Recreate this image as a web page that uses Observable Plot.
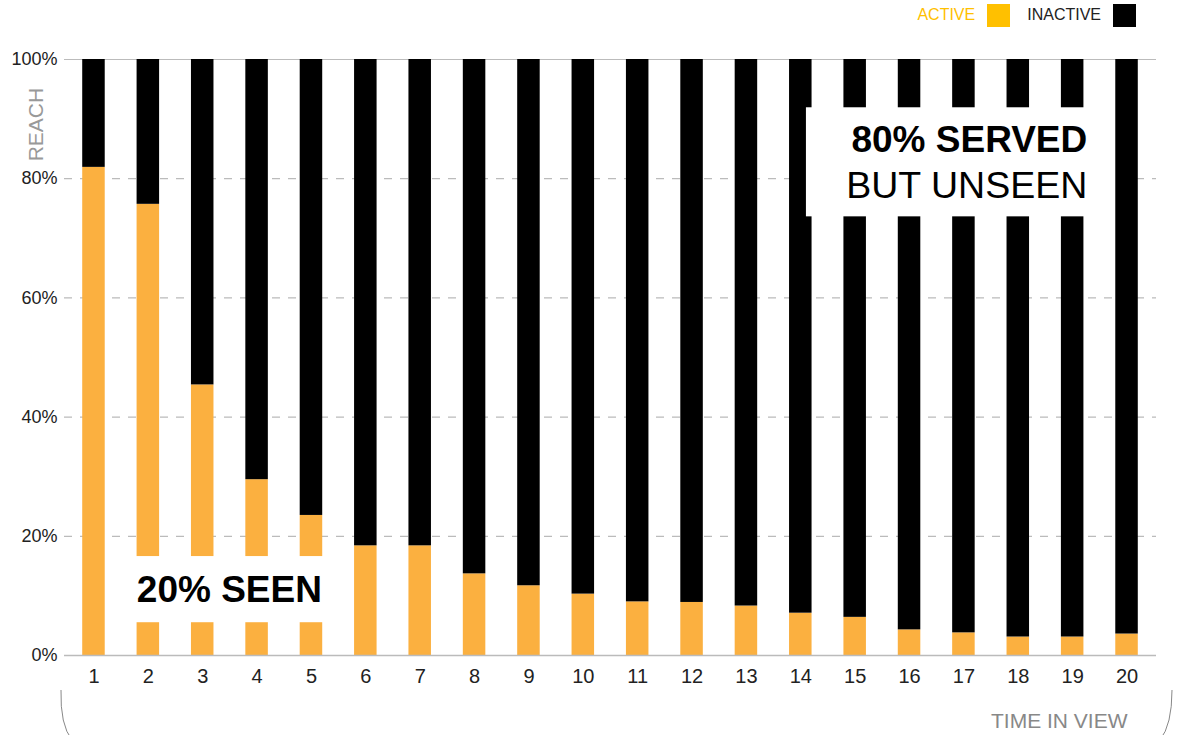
<!DOCTYPE html>
<html>
<head>
<meta charset="utf-8">
<script src="https://cdn.jsdelivr.net/npm/d3@7"></script>
<script src="https://cdn.jsdelivr.net/npm/@observablehq/plot@0.6"></script>
<style>
  html, body { margin: 0; padding: 0; background: #fff; }
  body { width: 1182px; height: 735px; overflow: hidden; font-family: "Liberation Sans", Arial, sans-serif; }
  .legend { height: 30px; display: flex; justify-content: flex-end; align-items: center; padding-right: 46px; font-size: 16px; box-sizing: border-box; }
  .legend .item { display: flex; align-items: center; }
  .legend .swatch { width: 23px; height: 23px; margin-left: 12px; }
  .legend .item + .item { margin-left: 17px; }
  #chart svg { display: block; }
</style>
</head>
<body>
<div class="legend" id="legend"></div>
<div id="chart"></div>
<script>
// Seconds in view, 1..20
const steps = ["1","2","3","4","5","6","7","8","9","10","11","12","13","14","15","16","17","18","19","20"];
// Share of impressions still actively viewed (%)
const active = [81.9, 75.7, 45.4, 29.5, 23.5, 18.4, 18.4, 13.7, 11.7, 10.3, 9.0, 8.9, 8.3, 7.1, 6.4, 4.3, 3.8, 3.1, 3.1, 3.6];
// Remaining share: served but inactive (%)
const inactive = active.map(v => +(100 - v).toFixed(1));
const yTicks = [0, 20, 40, 60, 80, 100];
const statuses = ["ACTIVE", "INACTIVE"];
const barColors = ["#FBB040", "#000000"];
const legendColors = ["#FFC000", "#000000"];
const legendTextColors = ["#FFC000", "#222222"];

// Long table for the stacked bars
const rows = [];
steps.forEach((s, i) => {
  rows.push({step: s, status: "ACTIVE", value: active[i]});
  rows.push({step: s, status: "INACTIVE", value: inactive[i]});
});

// Legend
const legend = document.getElementById("legend");
statuses.forEach((s, i) => {
  const item = document.createElement("div");
  item.className = "item";
  item.innerHTML = `<span style="color:${legendTextColors[i]}">${s}</span><span class="swatch" style="background:${legendColors[i]}"></span>`;
  legend.appendChild(item);
});

const W = 1182, H = 705;
const plot = Plot.plot({
  width: W,
  height: H,
  marginTop: 29,
  marginBottom: 80,
  marginLeft: 64,
  marginRight: 26,
  style: {fontFamily: "Liberation Sans, Arial, sans-serif", fontSize: "18px", color: "#222", background: "#fff"},
  x: {domain: steps, paddingInner: 0.586, paddingOuter: 0.335, round: false, label: null},
  y: {domain: [0, 100], label: null},
  color: {domain: statuses, range: barColors},
  marks: [
    Plot.ruleY([20, 40, 60, 80], {stroke: "#bbb", strokeWidth: 1.2, strokeDasharray: "8,8"}),
    Plot.ruleY([100], {stroke: "#bbb", strokeWidth: 1.2}),
    Plot.barY(rows, Plot.stackY({order: statuses}, {x: "step", y: "value", fill: "status"})),
    Plot.ruleY([0], {stroke: "#bbb", strokeWidth: 1.5}),
    Plot.axisX({tickSize: 0, tickPadding: 13, fontSize: 20, label: null}),
    Plot.axisY({ticks: yTicks, tickSize: 0, tickPadding: 7, fontSize: 18, tickFormat: d => d + "%", label: null})
  ]
});
document.getElementById("chart").appendChild(plot);

// Annotations, placed through the chart's scales
const svg = d3.select(plot);
const xs = plot.scale("x"), ys = plot.scale("y");
const bw = xs.bandwidth;
const gap = xs.step - bw;
const ann = svg.append("g").attr("font-family", "Liberation Sans, Arial, sans-serif");

// "20% SEEN" box over steps 2–5
const b1x0 = xs.apply("2") - gap / 2, b1x1 = xs.apply("5") + bw + gap / 2;
const b1y0 = ys.apply(16.6), b1y1 = ys.apply(5.5);
ann.append("rect").attr("x", b1x0).attr("y", b1y0).attr("width", b1x1 - b1x0).attr("height", b1y1 - b1y0).attr("fill", "#fff");
ann.append("text").attr("x", (xs.apply("2") + xs.apply("5") + bw) / 2).attr("y", (b1y0 + b1y1) / 2 + 13)
  .attr("text-anchor", "middle").attr("font-weight", "bold").attr("font-size", 37).attr("fill", "#000").text("20% SEEN");

// "80% SERVED BUT UNSEEN" box over steps 14–19
const b2x0 = xs.apply("14") + bw * 0.75, b2x1 = xs.apply("20") - 1;
const b2y0 = ys.apply(91.9), b2y1 = ys.apply(73.6);
ann.append("rect").attr("x", b2x0).attr("y", b2y0).attr("width", b2x1 - b2x0).attr("height", b2y1 - b2y0).attr("fill", "#fff");
ann.append("text").attr("x", b2x1 - 27).attr("y", b2y0 + 45)
  .attr("text-anchor", "end").attr("font-weight", "bold").attr("font-size", 37).attr("fill", "#000").text("80% SERVED");
ann.append("text").attr("x", b2x1 - 27).attr("y", b2y0 + 91)
  .attr("text-anchor", "end").attr("font-size", 37.5).attr("fill", "#000").text("BUT UNSEEN");

// Axis titles
ann.append("text").attr("transform", `translate(43,${ys.apply(89)}) rotate(-90)`)
  .attr("text-anchor", "middle").attr("font-size", 21).attr("fill", "#999").text("REACH");
ann.append("text").attr("x", xs.apply("20") + bw / 2 + 1).attr("y", H - 7)
  .attr("text-anchor", "end").attr("font-size", 21).attr("fill", "#888").text("TIME IN VIEW");

// Brace ends under the axis
ann.append("path").attr("d", `M61,${H - 45} Q60,${H - 10} 72,${H + 5}`).attr("fill", "none").attr("stroke", "#888").attr("stroke-width", 1);
ann.append("path").attr("d", `M1172,${H - 45} Q1172,${H - 10} 1160,${H + 5}`).attr("fill", "none").attr("stroke", "#888").attr("stroke-width", 1);
</script>
</body>
</html>
